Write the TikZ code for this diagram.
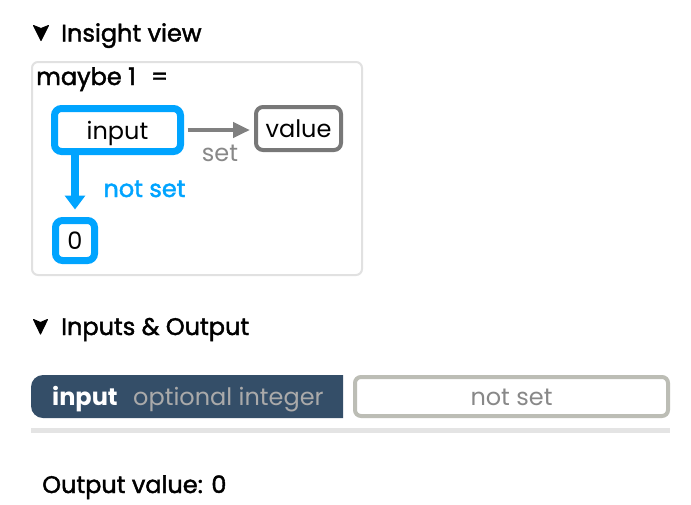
\documentclass[tikz,border=0pt]{standalone}
\usepackage{fontspec}
\setmainfont{Poppins}
\newfontfamily\pmed{Poppins}[FakeBold=1.8]
\usetikzlibrary{arrows.meta}
\definecolor{blueC}{RGB}{0,164,255}
\definecolor{grayA}{RGB}{128,128,128}
\definecolor{grayV}{RGB}{120,120,120}
\definecolor{darkbar}{RGB}{52,78,104}
\definecolor{optgray}{RGB}{170,170,170}
\definecolor{nsborder}{RGB}{188,189,181}
\definecolor{sepgray}{RGB}{228,228,228}
\definecolor{boxgray}{RGB}{225,225,225}
\definecolor{txtgray}{RGB}{136,136,136}
\newcommand\fsz{\fontsize{24}{28}\selectfont}
\tikzset{
  txt/.style={inner sep=0pt, anchor=base west},
  bluebox/.style={draw=blueC, line width=7pt, rounded corners=7pt, fill=white, inner sep=0pt, text depth=0pt, font=\fsz},
  graybox/.style={draw=grayV, line width=4pt, rounded corners=7pt, fill=white, inner sep=0pt, text depth=0pt, font=\fsz},
  head/.style={txt, font=\pmed\fsz},
  chev/.style={fill=black, draw=black, line width=1pt, line join=round},
}
\begin{document}
\begin{tikzpicture}[x=1pt,y=-1pt]
\useasboundingbox (0,0) rectangle (691,504);
\fill[white] (0,0) rectangle (691,504);
% heading 1
\filldraw[chev] (33.5,25.5) -- (41,28.5) -- (48.5,25.5) -- (41,40.5) -- cycle;
\node[head] (h1) at (61,41.5) {Insight view};
% insight box
\draw[boxgray, line width=2pt, rounded corners=6pt] (32,62) rectangle (362,275);
\node[txt, font=\pmed\fsz] (maybe) at (36,85) {maybe 1\hspace{15pt}=};
\node[bluebox, minimum width=126pt, minimum height=43pt] (input) at (117.5,130) {input};
\node[graybox, minimum width=85pt, minimum height=43pt] (value) at (298.5,128.5) {value};
\node[bluebox, minimum width=39pt, minimum height=40pt] (zero) at (75,240.5) {0};
\draw[grayA, line width=4.5pt, shorten <=3.5pt, shorten >=4pt, -{Triangle[length=17pt,width=15pt]}] (input.east) -- (input.east -| value.west) coordinate (vw);
\node[txt, font=\fsz, text=txtgray, anchor=base] (setl) at (220,161) {set};
\draw[blueC, line width=8pt, shorten >=7.5pt, -{Triangle[length=14pt,width=20pt]}] (input.south -| zero.north) -- (zero.north);
\node[txt, font=\pmed\fsz, text=blueC, anchor=base] (nsl) at (144.5,197) {not set};
% heading 2
\filldraw[chev] (33.5,319.5) -- (40.5,322.5) -- (47.5,319.5) -- (40.5,334) -- cycle;
\node[head] (h2) at (61,335) {Inputs \& Output};
% input bar
\path[fill=darkbar] (343,375) -- (43,375) arc[start angle=90,end angle=180,radius=12pt] -- (31,406) arc[start angle=180,end angle=270,radius=12pt] -- (343,418) -- cycle;
\node[txt, font=\fsz\bfseries, text=white] (inl) at (52,405) {input};
\node[txt, font=\fsz, text=optgray] (optl) at (133,405) {optional integer};
\node[draw=nsborder, line width=4pt, rounded corners=6pt, minimum width=313pt, minimum height=39pt, inner sep=0pt] (nsbox) at (511.5,396.5) {};
\node[txt, font=\fsz, text=txtgray, anchor=base] (nst) at (511.5,405) {not set};
\draw[sepgray, line width=4.5pt] (31,430.5) -- (670,430.5);
\node[head] (outv) at (42,493) {Output value: 0};
\end{tikzpicture}
\end{document}
